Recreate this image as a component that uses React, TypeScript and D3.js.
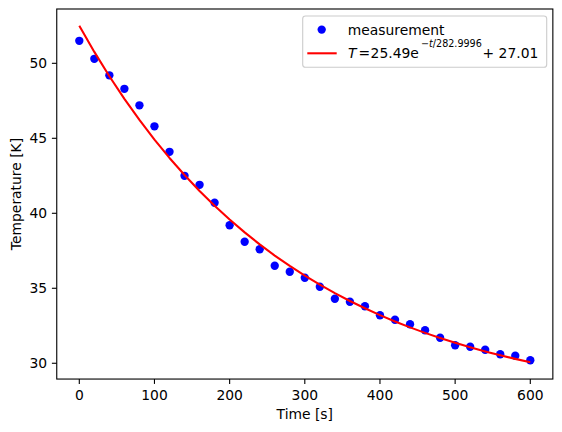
import * as d3 from 'd3'
import { useEffect } from 'react'

// measured cooling data, one reading every 20 s
const times = [
  0, 20, 40, 60, 80, 100, 120, 140, 160, 180, 200, 220, 240, 260, 280, 300,
  320, 340, 360, 380, 400, 420, 440, 460, 480, 500, 520, 540, 560, 580, 600,
]
const temps = [
  51.5, 50.3, 49.2, 48.3, 47.2, 45.8, 44.1, 42.5, 41.9, 40.7, 39.2, 38.1, 37.6,
  36.5, 36.1, 35.7, 35.1, 34.3, 34.1, 33.8, 33.2, 32.9, 32.6, 32.2, 31.7, 31.2,
  31.1, 30.9, 30.6, 30.5, 30.2,
]
// fitted parameters of T = a * exp(-t / tau) + c
const fitParams = [25.49, 282.9996, 27.01]
const xTicks = [0, 100, 200, 300, 400, 500, 600]
const yTicks = [30, 35, 40, 45, 50]

const W = 562
const H = 432
const plot = { left: 56.75, right: 552.85, top: 9, bottom: 379.05 }
const font = '"DejaVu Sans", sans-serif'
const fs = 13.89

export default function App() {
  useEffect(() => {
    document.body.style.margin = '0'
  }, [])

  const [a, tau, c] = fitParams
  const fit = times.map((t) => a * Math.exp(-t / tau) + c)

  const xPad = (d3.max(times)! - d3.min(times)!) * 0.05
  const x = d3
    .scaleLinear()
    .domain([d3.min(times)! - xPad, d3.max(times)! + xPad])
    .range([plot.left, plot.right])

  const allY = temps.concat(fit)
  const yLo = d3.min(allY)!
  const yHi = d3.max(allY)!
  const yPad = (yHi - yLo) * 0.05
  const y = d3
    .scaleLinear()
    .domain([yLo - yPad, yHi + yPad])
    .range([plot.bottom, plot.top])

  const line = d3
    .line<number>()
    .x((_, i) => x(times[i]))
    .y((d) => y(d))

  const tick = 4.86
  const legX = 302.7
  const legY = 16

  return (
    <svg width={W} height={H} style={{ display: 'block', background: '#fff' }} fontFamily={font}>
      <rect x={0} y={0} width={W} height={H} fill="#fff" />

      <clipPath id="plotclip">
        <rect x={plot.left} y={plot.top} width={plot.right - plot.left} height={plot.bottom - plot.top} />
      </clipPath>

      <g clipPath="url(#plotclip)">
        {temps.map((d, i) => (
          <circle key={i} cx={x(times[i])} cy={y(d)} r={4.17} fill="#0000ff" />
        ))}
        <path d={line(fit)!} fill="none" stroke="#ff0000" strokeWidth={2.08} strokeLinejoin="round" />
      </g>

      {/* spines */}
      <rect
        x={plot.left}
        y={plot.top}
        width={plot.right - plot.left}
        height={plot.bottom - plot.top}
        fill="none"
        stroke="#000"
        strokeWidth={1.11}
      />

      {/* x axis */}
      {xTicks.map((t) => (
        <g key={t} transform={`translate(${x(t)},${plot.bottom})`}>
          <line y2={tick} stroke="#000" strokeWidth={1.11} />
          <text y={21} textAnchor="middle" fontSize={fs} fill="#000">
            {t}
          </text>
        </g>
      ))}
      <text x={(plot.left + plot.right) / 2} y={419} textAnchor="middle" fontSize={fs} fill="#000">
        Time [s]
      </text>

      {/* y axis */}
      {yTicks.map((v) => (
        <g key={v} transform={`translate(${plot.left},${y(v)})`}>
          <line x2={-tick} stroke="#000" strokeWidth={1.11} />
          <text x={-tick - 4.86} dy="0.36em" textAnchor="end" fontSize={fs} fill="#000">
            {v}
          </text>
        </g>
      ))}
      <text
        transform={`translate(20.5,${(plot.top + plot.bottom) / 2}) rotate(-90)`}
        textAnchor="middle"
        fontSize={fs}
        fill="#000"
      >
        Temperature [K]
      </text>

      {/* legend */}
      <rect
        x={legX}
        y={legY}
        width={546.7 - legX}
        height={51.3}
        rx={2.8}
        fill="#fff"
        fillOpacity={0.8}
        stroke="#cccccc"
        strokeWidth={1.11}
      />
      <circle cx={321.7} cy={29.6} r={4.17} fill="#0000ff" />
      <text x={347.7} y={34.5} fontSize={fs} fill="#000">
        measurement
      </text>
      <line x1={307.3} x2={336.7} y1={53.3} y2={53.3} stroke="#ff0000" strokeWidth={2.08} />
      <g fontSize={fs} fill="#000">
        <text x={348} y={58.2} fontStyle="italic">
          T
        </text>
        <text x={358.6} y={58.2}>
          =
        </text>
        <text x={370.6} y={58.2}>
          {`${a.toFixed(2)}e`}
        </text>
        <text x={421} y={46.5} fontSize={9.6}>
          <tspan>−</tspan>
          <tspan fontStyle="italic">t</tspan>
          <tspan>{`/${tau}`}</tspan>
        </text>
        <text x={538.3} y={58.2} textAnchor="end">
          {`+ ${c.toFixed(2)}`}
        </text>
      </g>
    </svg>
  )
}
